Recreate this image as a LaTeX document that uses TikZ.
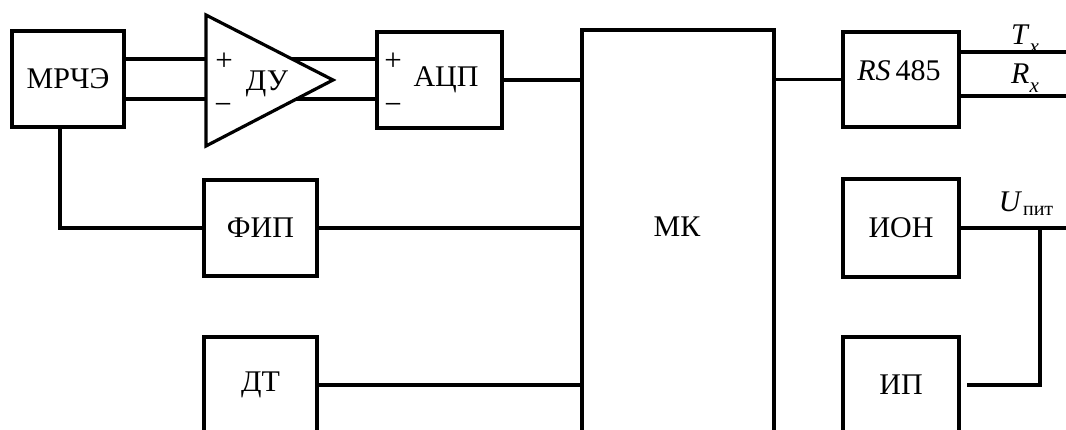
\documentclass[tikz,border=0pt]{standalone}
\usepackage{fontspec}
\setmainfont{Liberation Serif}
\newcommand{\subx}[1]{\raisebox{-0.28em}{\fontsize{21}{22}\selectfont #1}}
\begin{document}
\begin{tikzpicture}[x=1pt,y=-1pt,
  every node/.style={font=\fontsize{30}{32}\selectfont, inner sep=0pt, outer sep=0pt},
  box/.style={draw, line width=3.2pt, anchor=north west},
  wire/.style={line width=3.2pt},
  sign/.style={font=\fontsize{31}{32}\selectfont}]
\useasboundingbox (0,0) rectangle (1066,430);
\clip (0,0) rectangle (1066,430);
% blocks
\node[box, minimum width=112pt, minimum height=96pt] (mrche) at (12,31) {МРЧЭ};
\node[box, minimum width=125pt, minimum height=96pt] (adc) at (377,32) {};
\node (adctext) at (446,80) {АЦП};
\node[sign] (adcp) at (393,62) {+};
\node[sign] (adcm) at (393,109) {\symbol{"2212}};
\node[box, minimum width=113pt, minimum height=96pt] (fip) at (204,180) {ФИП};
\node[box, minimum width=113pt, minimum height=96pt] (dt) at (204,337) {ДТ};
\node[box, minimum width=192pt, minimum height=480pt] (mk) at (582,30) {};
\node (mktext) at (677,227) {МК};
\node[box, minimum width=116pt, minimum height=95pt] (rs) at (843,32) {};
\node (rstext) at (899,71) {\textit{RS}\,485};
\node[box, minimum width=116pt, minimum height=98pt] (ion) at (843,179) {ИОН};
\node[box, minimum width=116pt, minimum height=96pt] (ip) at (843,337) {ИП};
% differential amplifier
\coordinate (dua) at (206,15);
\coordinate (dub) at (206,146);
\coordinate (duc) at (333,80);
\draw[wire, line join=miter] (dua) -- (duc) -- (dub) -- cycle;
\node (dutext) at (267,84) {ДУ};
\node[sign] (dup) at (224,62) {+};
\node[sign] (dum) at (223,109) {\symbol{"2212}};
\coordinate (inp) at (206,59);
\coordinate (inm) at (206,99);
\coordinate (outp) at (292,59);
\coordinate (outm) at (296,99);
% connectors
\draw[wire] (inp -| mrche.east) -- (inp);
\draw[wire] (inm -| mrche.east) -- (inm);
\draw[wire] (outp) -- (outp -| adc.west);
\draw[wire] (outm) -- (outm -| adc.west);
\draw[wire] ([xshift=48pt]mrche.south west) |- (fip.west);
\draw[wire] (adc.east) -- (adc.east -| mk.west);
\draw[wire] (fip.east) -- (fip.east -| mk.west);
\draw[wire] (dt.east) -- (dt.east -| mk.west);
\draw[wire] (rs.west -| mk.east) -- (rs.west);
\coordinate (tx) at (1070,52);
\coordinate (rx) at (1070,96);
\draw[wire] (rs.east |- tx) -- (tx);
\draw[wire] (rs.east |- rx) -- (rx);
\node[anchor=base] (txl) at (1025,45) {\textit{T}\subx{\textit{x}}};
\node[anchor=base] (rxl) at (1025,84) {\textit{R}\subx{\textit{x}}};
\coordinate (uend) at (1070,228);
\coordinate (j) at (1040,228);
\draw[wire] (ion.east) -- (uend);
\draw[wire, shorten >=8pt] (j) |- (ip.east);
\node[anchor=base] (ul) at (1026,212) {\textit{U}\kern1pt\raisebox{-0.12em}{\fontsize{20}{22}\selectfont пит}};
\end{tikzpicture}
\end{document}
